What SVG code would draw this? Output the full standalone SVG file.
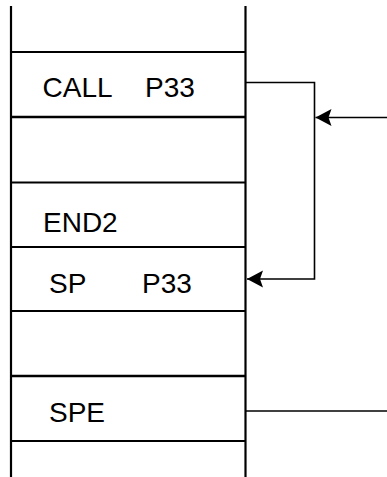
<svg xmlns="http://www.w3.org/2000/svg" width="387" height="477" viewBox="0 0 387 477">
<style>
.frame{stroke:#000;stroke-width:2.2;fill:none}
.row{stroke:#000;stroke-width:2;fill:none}
.thick{stroke-width:2.6}
.conn{stroke:#000;stroke-width:1.6;fill:none}
text{font-family:"Liberation Sans",Arial,sans-serif;font-size:28px;fill:#000}
</style>
<defs>
<marker id="arr" markerUnits="userSpaceOnUse" markerWidth="18" markerHeight="18" viewBox="0 0 18 18" refX="17" refY="9" orient="auto">
<path d="M1,0.5 L17,9 L1,17.5 L4,9 Z" fill="#000"/>
</marker>
</defs>
<rect width="387" height="477" fill="#fff"/>
<g id="stack">
<line class="frame" x1="11" y1="6" x2="11" y2="477"/>
<line class="frame" x1="245.5" y1="6" x2="245.5" y2="477"/>
</g>
<g id="row-call">
<line class="row" x1="11" y1="52" x2="245" y2="52"/>
<text x="42.5" y="96.5">CALL</text>
<text x="145" y="96.5">P33</text>
</g>
<g id="row-empty1">
<line class="row thick" x1="11" y1="117" x2="245" y2="117"/>
</g>
<g id="row-end2">
<line class="row" x1="11" y1="182.5" x2="245" y2="182.5"/>
<text x="43" y="231.5">END2</text>
</g>
<g id="row-sp">
<line class="row" x1="11" y1="247" x2="245" y2="247"/>
<text x="49" y="292.5">SP</text>
<text x="142" y="292.5">P33</text>
</g>
<g id="row-empty2">
<line class="row" x1="11" y1="311" x2="245" y2="311"/>
</g>
<g id="row-spe">
<line class="row thick" x1="11" y1="376" x2="245" y2="376"/>
<text x="49" y="422">SPE</text>
<line class="row" x1="11" y1="441" x2="245" y2="441"/>
</g>
<g id="connectors">
<path class="conn" d="M246,82.5 H314.5 V279 H247" marker-end="url(#arr)"/>
<line class="conn" x1="387" y1="117.5" x2="315.5" y2="117.5" marker-end="url(#arr)"/>
<line class="conn" x1="246" y1="411" x2="387" y2="411"/>
</g>
</svg>
